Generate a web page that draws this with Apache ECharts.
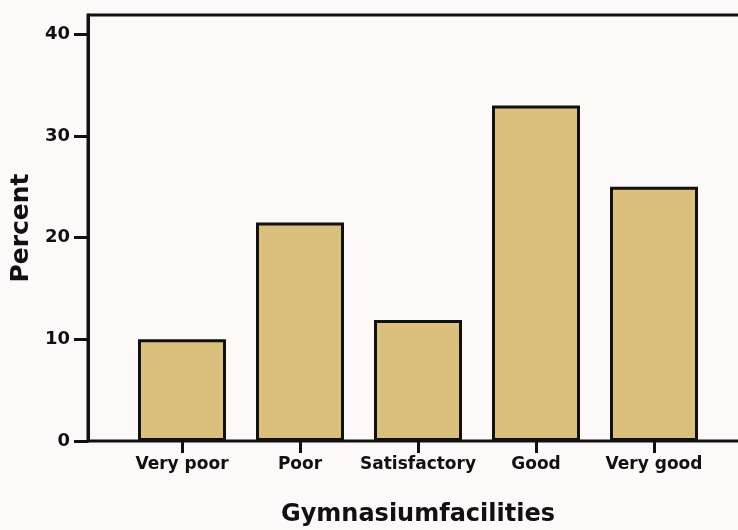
<!DOCTYPE html>
<html>
<head>
<meta charset="utf-8">
<script src="https://cdn.jsdelivr.net/npm/echarts@6/dist/echarts.min.js"></script>
<style>
  html, body { margin: 0; padding: 0; background: #fcf9f8; }
  #main { width: 738px; height: 530px; }
</style>
</head>
<body>
<div id="main"></div>
<script>
// Gymnasium facilities - percent bar chart
var categories = ['Very poor', 'Poor', 'Satisfactory', 'Good', 'Very good'];
var percents = [10.0, 21.5, 11.9, 33.0, 25.0];
var yTicks = [0, 10, 20, 30, 40];

var chart = echarts.init(document.getElementById('main'));
var font = 'DejaVu Sans, Verdana, sans-serif';

var option = {
  backgroundColor: '#fcf9f8',
  animation: false,
  grid: [
    // frame + y axis
    { left: 88, top: 15, right: -30, bottom: 89, outerBoundsMode: 'none', containLabel: false,
      show: true, borderColor: '#111', borderWidth: 3, backgroundColor: 'transparent' },
    // bars
    { left: 123, top: 15, right: 25, bottom: 89, outerBoundsMode: 'none', containLabel: false }
  ],
  xAxis: [
    { gridIndex: 0, type: 'value', show: false },
    {
      gridIndex: 1,
      type: 'category',
      data: categories,
      axisLine: { show: false },
      axisTick: { show: true, alignWithLabel: true, length: 12, lineStyle: { color: '#111', width: 3 } },
      axisLabel: { color: '#111', fontFamily: font, fontWeight: 'bold', fontSize: 17, margin: 15, interval: 0 },
      name: 'Gymnasiumfacilities',
      nameLocation: 'middle',
      nameGap: 62,
      nameTextStyle: { color: '#111', fontFamily: font, fontWeight: 'bold', fontSize: 24 }
    }
  ],
  yAxis: [
    {
      gridIndex: 0,
      type: 'value',
      min: 0,
      max: 41.9,
      interval: 10,
      axisLine: { show: true, lineStyle: { color: '#111', width: 3 } },
      axisTick: { show: true, length: 14, customValues: yTicks, lineStyle: { color: '#111', width: 3 } },
      axisLabel: { color: '#111', fontFamily: font, fontWeight: 'bold', fontSize: 18, margin: 18, customValues: yTicks },
      splitLine: { show: false },
      name: 'Percent',
      nameLocation: 'middle',
      nameGap: 54,
      nameRotate: 90,
      nameTextStyle: { color: '#111', fontFamily: font, fontWeight: 'bold', fontSize: 25 }
    },
    { gridIndex: 1, type: 'value', min: 0, max: 41.9, show: false }
  ],
  series: [{
    type: 'bar',
    xAxisIndex: 1,
    yAxisIndex: 1,
    data: percents,
    barWidth: 88,
    itemStyle: {
      color: '#dbbf7d',
      borderColor: '#111',
      borderWidth: 3
    }
  }]
};
chart.setOption(option);
</script>
</body>
</html>
